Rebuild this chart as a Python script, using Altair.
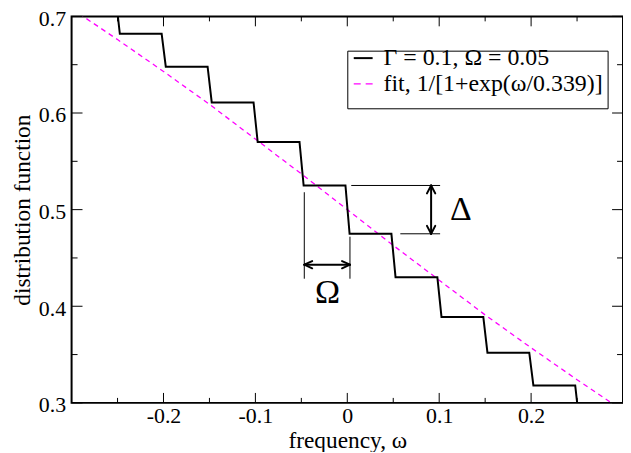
import altair as alt
import pandas as pd

# ---- data ----
step_centers = [-0.25, -0.2, -0.15, -0.1, -0.05, 0.0, 0.05, 0.1, 0.15, 0.2, 0.25]
plateau_levels = [0.72, 0.682, 0.648, 0.611, 0.570, 0.525, 0.475, 0.430, 0.389, 0.352, 0.318, 0.28]

fit_omega = [-0.3, -0.25, -0.2, -0.15, -0.1, -0.05, 0.0, 0.05, 0.1, 0.15, 0.2, 0.25, 0.3]
fit_values = [0.708, 0.676, 0.643, 0.609, 0.573, 0.537, 0.500, 0.463, 0.427, 0.391, 0.357, 0.324, 0.292]

x_major = [-0.2, -0.1, 0.0, 0.1, 0.2]
x_minor = [-0.25, -0.15, -0.05, 0.05, 0.15, 0.25]
y_major = [0.3, 0.4, 0.5, 0.6, 0.7]
y_minor = [0.35, 0.45, 0.55, 0.65]

legend_labels = ["\u0393 = 0.1, \u03a9 = 0.05", "fit, 1/[1+exp(\u03c9/0.339)]"]

FONT = "Liberation Serif"
W, H = 555, 389

# ---- tables ----
stair_x, stair_y = [-0.3], [plateau_levels[0]]
for i, c in enumerate(step_centers):
    stair_x += [c - 0.002, c + 0.0025]
    stair_y += [plateau_levels[i], plateau_levels[i + 1]]
stair_x.append(0.3)
stair_y.append(plateau_levels[-1])
stair = pd.DataFrame({"x": stair_x, "y": stair_y, "o": range(len(stair_x))})
fit = pd.DataFrame({"x": fit_omega, "y": fit_values})

xscale = alt.Scale(domain=[-0.3, 0.3], nice=False, zero=False)
yscale = alt.Scale(domain=[0.3, 0.7], nice=False, zero=False)

xaxis = alt.Axis(
    values=x_major, title="frequency, \u03c9", grid=False, domain=False, ticks=False, tickSize=0,
    labelFont=FONT, labelFontSize=22, labelColor="black", labelPadding=3,
    labelExpr="datum.value < -0.001 ? '-' + format(-datum.value, '.1f') : (abs(datum.value) < 0.001 ? '0' : format(datum.value, '.1f'))",
    titleFont=FONT, titleFontSize=23.5, titleFontWeight="normal", titleColor="black", titlePadding=2,
)
yaxis = alt.Axis(
    values=y_major, title="distribution function", grid=False, domain=False, ticks=False, tickSize=0,
    labelFont=FONT, labelFontSize=22, labelColor="black", labelPadding=6, format=".1f", labelOffset=2,
    titleFont=FONT, titleFontSize=23.5, titleFontWeight="normal", titleColor="black", titlePadding=4,
)


def X(f="x"):
    return alt.X(f, type="quantitative", scale=xscale, axis=xaxis)


def Y(f="y"):
    return alt.Y(f, type="quantitative", scale=yscale, axis=yaxis)


stair_layer = alt.Chart(stair).mark_line(color="black", strokeWidth=2, clip=True).encode(
    x=X(), y=Y(), order="o:Q"
)
fit_layer = alt.Chart(fit).mark_line(color="#ff00ff", strokeWidth=1.3, strokeDash=[5, 4], clip=True).encode(
    x=X(), y=Y()
)

# ---- inward ticks on all four sides ----
def xticks(vals, length):
    d = pd.DataFrame({"x": vals})
    b = alt.Chart(d).mark_rule(color="black", strokeWidth=1).encode(
        x=X(), y=alt.value(H), y2=alt.value(H - length))
    t = alt.Chart(d).mark_rule(color="black", strokeWidth=1).encode(
        x=X(), y=alt.value(0), y2=alt.value(length))
    return [b, t]


def yticks(vals, length):
    d = pd.DataFrame({"y": vals})
    l = alt.Chart(d).mark_rule(color="black", strokeWidth=1).encode(
        y=Y(), x=alt.value(0), x2=alt.value(length))
    r = alt.Chart(d).mark_rule(color="black", strokeWidth=1).encode(
        y=Y(), x=alt.value(W), x2=alt.value(W - length))
    return [l, r]


tick_layers = xticks(x_major, 10) + xticks(x_minor, 5) + yticks(y_major, 11) + yticks(y_minor, 6)

# ---- annotations (data coordinates) ----
thin = pd.DataFrame({
    "x":  [0.0043, 0.0577, -0.0468, 0.0029],
    "x2": [0.1010, 0.1010, -0.0468, 0.0029],
    "y":  [0.525, 0.475, 0.518, 0.472],
    "y2": [0.525, 0.475, 0.4285, 0.4285],
})
ax_d, ay_lo, ay_hi = 0.0912, 0.475, 0.525
ox_l, ox_r, oy = -0.0468, 0.0029, 0.443
hx, hy = 0.0045, 0.0082   # vertical arrowhead half-width / length
gx, gy = 0.0086, 0.0037   # horizontal arrowhead length / half-height
thick = pd.DataFrame({
    "x":  [ax_d, ax_d, ax_d, ax_d, ax_d, ox_l, ox_l, ox_l, ox_r, ox_r],
    "x2": [ax_d, ax_d - hx, ax_d + hx, ax_d - hx, ax_d + hx, ox_r, ox_l + gx, ox_l + gx, ox_r - gx, ox_r - gx],
    "y":  [ay_lo, ay_hi, ay_hi, ay_lo, ay_lo, oy, oy, oy, oy, oy],
    "y2": [ay_hi, ay_hi - hy, ay_hi - hy, ay_lo + hy, ay_lo + hy, oy, oy + gy, oy - gy, oy + gy, oy - gy],
})
thin_layer = alt.Chart(thin).mark_rule(color="black", strokeWidth=1).encode(
    x=X(), x2="x2", y=Y(), y2="y2")
thick_layer = alt.Chart(thick).mark_rule(color="black", strokeWidth=2, strokeCap="round").encode(
    x=X(), x2="x2", y=Y(), y2="y2")

sym = pd.DataFrame({"x": [0.1236, -0.0216], "y": [0.4995, 0.414], "t": ["\u0394", "\u03a9"]})
sym_layer = alt.Chart(sym).mark_text(font=FONT, fontSize=34, color="black", baseline="middle", align="center").encode(
    x=X(), y=Y(), text="t:N")

# ---- hand-drawn legend box ----
one = pd.DataFrame({"a": [0]})
box = alt.Chart(one).mark_rect(fill="white", stroke="black", strokeWidth=1).encode(
    x=alt.value(278), x2=alt.value(540), y=alt.value(35), y2=alt.value(93))
leg_black = alt.Chart(one).mark_rule(color="black", strokeWidth=2).encode(
    x=alt.value(284), x2=alt.value(303), y=alt.value(42), y2=alt.value(42))
leg_pink = alt.Chart(one).mark_rule(color="#ff00ff", strokeWidth=1.3, strokeDash=[7, 5]).encode(
    x=alt.value(284), x2=alt.value(303), y=alt.value(68), y2=alt.value(68))
leg_txt = pd.DataFrame({"t": legend_labels, "yy": [42, 68]})
leg_text = alt.Chart(leg_txt).mark_text(font=FONT, fontSize=24, color="black", align="left", baseline="middle").encode(
    x=alt.value(314), y=alt.Y("yy:Q", scale=None), text="t:N")

chart = alt.layer(
    fit_layer, stair_layer, thin_layer, thick_layer, sym_layer, *tick_layers,
    box, leg_black, leg_pink, leg_text,
).properties(
    width=W, height=H,
    autosize=alt.AutoSizeParams(type="none"),
    padding={"left": 64, "top": 7, "right": 0, "bottom": 48},
    background="white",
).configure_view(stroke="black", strokeWidth=2)

chart.save("out.html", embed_options={"renderer": "svg", "actions": False})
